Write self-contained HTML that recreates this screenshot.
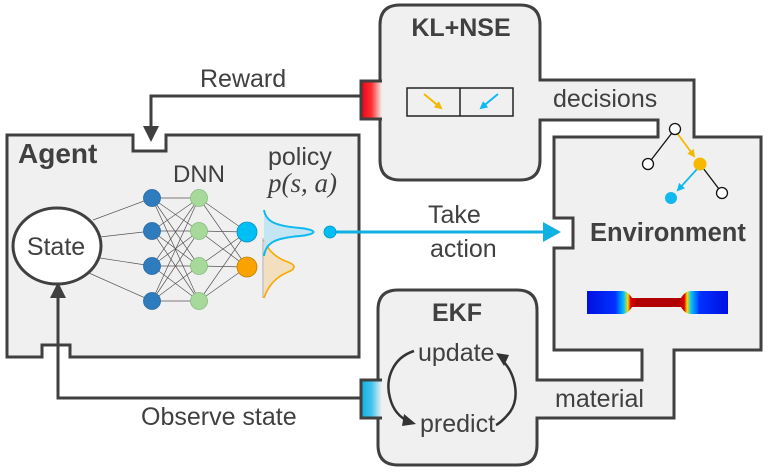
<!DOCTYPE html>
<html><head><meta charset="utf-8"><style>
html,body{margin:0;padding:0;background:#fff;}
svg{display:block;font-family:"Liberation Sans",sans-serif;}
</style></head><body>
<svg width="769" height="474" viewBox="0 0 769 474" xmlns="http://www.w3.org/2000/svg">
<defs>
<linearGradient id="red" x1="0" x2="1"><stop offset="0" stop-color="#e8001c"/><stop offset="0.5" stop-color="#ff3030"/><stop offset="1" stop-color="#f0f0f0"/></linearGradient>
<linearGradient id="blu" x1="0" x2="1"><stop offset="0" stop-color="#10b0e0"/><stop offset="0.5" stop-color="#40c4ee"/><stop offset="1" stop-color="#f0f0f0"/></linearGradient>
<linearGradient id="jet" x1="0" x2="1">
<stop offset="0" stop-color="#0010e0"/><stop offset="0.2" stop-color="#0030ff"/><stop offset="0.26" stop-color="#00c0ff"/><stop offset="0.29" stop-color="#f0e000"/><stop offset="0.31" stop-color="#e00000"/><stop offset="0.35" stop-color="#b00000"/>
<stop offset="0.65" stop-color="#b00000"/><stop offset="0.69" stop-color="#e00000"/><stop offset="0.71" stop-color="#f0e000"/><stop offset="0.74" stop-color="#00c0ff"/><stop offset="0.8" stop-color="#0030ff"/><stop offset="1" stop-color="#0010e0"/></linearGradient>
<marker id="ah" markerWidth="8" markerHeight="8" refX="6" refY="4" orient="auto" markerUnits="userSpaceOnUse"><path d="M0,0 L8,4 L0,8 Z" fill="#f5b800"/></marker>
<marker id="ahb" markerWidth="8" markerHeight="8" refX="6" refY="4" orient="auto" markerUnits="userSpaceOnUse"><path d="M0,0 L8,4 L0,8 Z" fill="#10b8f0"/></marker>
</defs>

<path d="M7,135 H133 V151 H166 V135 H359 V357 H70 V345 H42 V357 H7 Z" fill="#f0f0f0" stroke="#404040" stroke-width="3"/>

<path d="M400,5 H520 Q540,5 540,25 V80 H694 V137 H761 V350 H674 V418 H537 V445 Q537,465 517,465 H398 Q378,465 378,445 V310 Q378,290 398,290 H517 Q537,290 537,310 V380 H642 V350 H554 V248 H573 V218 H554 V137 H658 V120 H540 V160 Q540,180 520,180 H400 Q380,180 380,160 V25 Q380,5 400,5 Z" fill="#f0f0f0" stroke="#404040" stroke-width="3"/>

<path d="M382,81 H361 V119 H382" fill="url(#red)" stroke="#404040" stroke-width="3"/>
<path d="M382,380 H361 V418 H382" fill="url(#blu)" stroke="#404040" stroke-width="3"/>

<path d="M361,96 H151 V128" fill="none" stroke="#404040" stroke-width="3"/>
<path d="M143,126 L159,126 L151,142 Z" fill="#404040"/>
<text x="200" y="87" font-size="25" fill="#404040">Reward</text>

<path d="M361,398 H58 V296" fill="none" stroke="#404040" stroke-width="3"/>
<path d="M50,298 L66,298 L58,282 Z" fill="#404040"/>
<text x="141" y="425" font-size="25" fill="#404040">Observe state</text>

<text x="18" y="163" font-size="28" font-weight="bold" fill="#404040">Agent</text>
<text x="173" y="182" font-size="24" fill="#404040">DNN</text>
<text x="268" y="165" font-size="25" fill="#404040">policy</text>
<text x="268" y="192" font-size="27" font-style="italic" font-family="Liberation Serif,serif" fill="#404040">p(s, a)</text>
<ellipse cx="57" cy="246" rx="44" ry="38" fill="#fff" stroke="#404040" stroke-width="3"/>
<text x="56" y="255" font-size="25" text-anchor="middle" fill="#404040">State</text>

<g stroke="#555" stroke-width="0.7">
<line x1="93" y1="220" x2="152" y2="198"/><line x1="100" y1="237" x2="152" y2="231"/><line x1="100" y1="258" x2="152" y2="266"/><line x1="89" y1="273" x2="152" y2="301"/>
<line x1="152" y1="198" x2="199" y2="198"/><line x1="152" y1="198" x2="199" y2="231"/><line x1="152" y1="198" x2="199" y2="266"/><line x1="152" y1="198" x2="199" y2="301"/>
<line x1="152" y1="231" x2="199" y2="198"/><line x1="152" y1="231" x2="199" y2="231"/><line x1="152" y1="231" x2="199" y2="266"/><line x1="152" y1="231" x2="199" y2="301"/>
<line x1="152" y1="266" x2="199" y2="198"/><line x1="152" y1="266" x2="199" y2="231"/><line x1="152" y1="266" x2="199" y2="266"/><line x1="152" y1="266" x2="199" y2="301"/>
<line x1="152" y1="301" x2="199" y2="198"/><line x1="152" y1="301" x2="199" y2="231"/><line x1="152" y1="301" x2="199" y2="266"/><line x1="152" y1="301" x2="199" y2="301"/>
<line x1="199" y1="198" x2="247" y2="232"/><line x1="199" y1="198" x2="247" y2="267"/>
<line x1="199" y1="231" x2="247" y2="232"/><line x1="199" y1="231" x2="247" y2="267"/>
<line x1="199" y1="266" x2="247" y2="232"/><line x1="199" y1="266" x2="247" y2="267"/>
<line x1="199" y1="301" x2="247" y2="232"/><line x1="199" y1="301" x2="247" y2="267"/>
</g>
<g fill="#2e7bbd" stroke="#2a6aa0" stroke-width="0.8">
<circle cx="152" cy="198" r="8.5"/><circle cx="152" cy="231" r="8.5"/><circle cx="152" cy="266" r="8.5"/><circle cx="152" cy="301" r="8.5"/></g>
<g fill="#a6d99a" stroke="#88bb80" stroke-width="0.8">
<circle cx="199" cy="198" r="8.5"/><circle cx="199" cy="231" r="8.5"/><circle cx="199" cy="266" r="8.5"/><circle cx="199" cy="301" r="8.5"/></g>
<circle cx="247" cy="232" r="10" fill="#00bff5" stroke="#0090c0" stroke-width="0.8"/>
<circle cx="247" cy="267" r="10" fill="#f9a200" stroke="#c08000" stroke-width="0.8"/>

<line x1="263" y1="238" x2="263" y2="298" stroke="#aaa" stroke-width="1"/>
<path d="M264,240 C268,250 276,258 288,262 C296,265 296,269 288,272 C276,277 268,286 264,298 Z" fill="#f3dfbd"/>
<path d="M264,240 C268,250 276,258 288,262 C296,265 296,269 288,272 C276,277 268,286 264,298" fill="none" stroke="#f9a800" stroke-width="1.6"/>
<path d="M264,210 C266,222 276,226 300,228 C318,230 318,234 300,236 C276,238 266,242 264,256 Z" fill="#bfe4f2" fill-opacity="0.9"/>
<path d="M264,210 C266,222 276,226 300,228 C318,230 318,234 300,236 C276,238 266,242 264,256" fill="none" stroke="#10b8f0" stroke-width="2"/>

<line x1="330" y1="232" x2="546" y2="232" stroke="#10b0e0" stroke-width="3"/>
<path d="M543,222 L561,232 L543,242 Z" fill="#10b0e0"/>
<circle cx="330" cy="232" r="6" fill="#00bff5" stroke="#0090c0" stroke-width="0.8"/>
<text x="428" y="223" font-size="25" fill="#404040">Take</text>
<text x="430" y="257" font-size="25" fill="#404040">action</text>

<text x="461" y="36" font-size="25" font-weight="bold" text-anchor="middle" fill="#404040">KL+NSE</text>
<rect x="407" y="88" width="106" height="28" fill="none" stroke="#222" stroke-width="1.5"/>
<line x1="460" y1="88" x2="460" y2="116" stroke="#222" stroke-width="1.5"/>
<line x1="424" y1="94" x2="441" y2="108" stroke="#f5b800" stroke-width="2" marker-end="url(#ah)"/>
<line x1="498" y1="94" x2="481" y2="108" stroke="#10b8f0" stroke-width="2" marker-end="url(#ahb)"/>
<text x="553" y="107" font-size="25" fill="#404040">decisions</text>

<line x1="675" y1="129" x2="648" y2="164" stroke="#111" stroke-width="1.3"/>
<line x1="700" y1="164" x2="722" y2="193" stroke="#111" stroke-width="1.3"/>
<line x1="677" y1="133" x2="694" y2="156" stroke="#f5b800" stroke-width="1.8" marker-end="url(#ah)"/>
<line x1="698" y1="168" x2="678" y2="190" stroke="#10b8f0" stroke-width="1.8" marker-end="url(#ahb)"/>
<circle cx="675" cy="129" r="5.5" fill="#fff" stroke="#111" stroke-width="1.3"/>
<circle cx="648" cy="164" r="5.5" fill="#fff" stroke="#111" stroke-width="1.3"/>
<circle cx="722" cy="193" r="5.5" fill="#fff" stroke="#111" stroke-width="1.3"/>
<circle cx="700" cy="164" r="6.5" fill="#f9b800"/>
<circle cx="671" cy="198" r="6" fill="#10b8f0"/>

<text x="590" y="241" font-size="25.5" font-weight="bold" fill="#404040">Environment</text>
<path d="M587,291 H622 Q628,291 632,298 H681 Q685,291 691,291 H728 V314 H691 Q685,314 681,307 H632 Q628,314 622,314 H587 Z" fill="url(#jet)"/>

<text x="457" y="321" font-size="25" font-weight="bold" text-anchor="middle" fill="#404040">EKF</text>
<text x="418" y="361" font-size="25" fill="#404040">update</text>
<text x="420" y="432" font-size="25" fill="#404040">predict</text>
<path d="M414,351 C392,358 385,380 390,398 C393,410 400,418 410,422" fill="none" stroke="#333" stroke-width="2.5"/>
<path d="M404,414 L416,424 L402,426 Z" fill="#333"/>
<path d="M502,360 C516,374 520,398 510,412 C504,420 498,424 496,425" fill="none" stroke="#333" stroke-width="2.5"/>
<path d="M496,353 L504,366 L509,355 Z" fill="#333"/>
<text x="555" y="407" font-size="25" fill="#404040">material</text>
</svg>
</body></html>
